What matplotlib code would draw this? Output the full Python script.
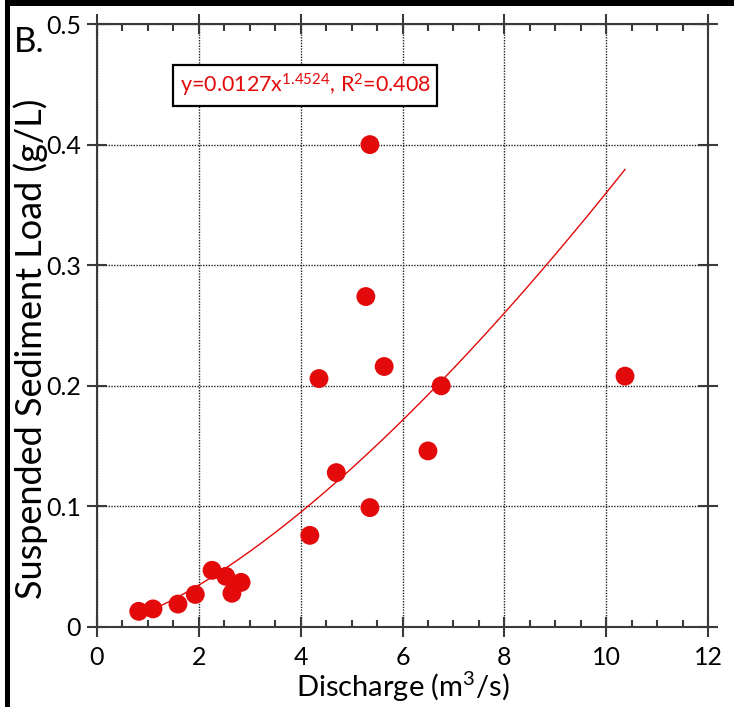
import numpy as np
import matplotlib
matplotlib.use("Agg")
import matplotlib.pyplot as plt
from matplotlib.patches import Rectangle
from matplotlib.ticker import MultipleLocator

plt.rcParams["font.family"] = ["Lato", "DejaVu Sans"]
plt.rcParams["mathtext.default"] = "regular"

# discharge (m3/s) and suspended sediment load (g/L)
discharge = [0.82, 1.10, 1.59, 1.93, 2.26, 2.53, 2.65, 2.83, 4.18, 4.36,
             4.70, 5.28, 5.36, 5.36, 5.64, 6.50, 6.76, 10.37]
ssl = [0.013, 0.015, 0.019, 0.027, 0.047, 0.042, 0.028, 0.037, 0.076, 0.206,
       0.128, 0.274, 0.400, 0.099, 0.216, 0.146, 0.200, 0.208]

# power-law fit reported on the chart
fit_a, fit_b, fit_r2 = 0.0127, 1.4524, 0.408

RED = "#e20a0a"
AX_COL = "#3a3a3a"

fig = plt.figure(figsize=(7.34, 7.07), dpi=100)
ax = fig.add_axes([97/734, 1 - 627/707, 611/734, 603/707])

# fitted curve
xf = np.linspace(min(discharge), max(discharge), 200)
ax.plot(xf, fit_a * xf ** fit_b, color=RED, lw=1.0, zorder=3)

ax.scatter(discharge, ssl, s=185, color=RED, edgecolors="none", zorder=4)

ax.set_xlim(0, 12)
ax.set_ylim(0, 0.5)
ax.xaxis.set_major_locator(MultipleLocator(2))
ax.xaxis.set_minor_locator(MultipleLocator(0.5))
ax.set_yticks([0, 0.1, 0.2, 0.3, 0.4, 0.5])
ax.set_yticklabels(["0", "0.1", "0.2", "0.3", "0.4", "0.5"])

ax.grid(True, which="major", ls=(0, (1, 1)), color="#222222", lw=1.0)
ax.set_axisbelow(True)

for sp in ax.spines.values():
    sp.set_color(AX_COL)
    sp.set_linewidth(1.5)

ax.tick_params(which="major", direction="inout", length=15, width=1.5,
               color=AX_COL, top=True, right=True, labelsize=18, pad=4)
ax.tick_params(axis="x", which="major", pad=6)
ax.tick_params(which="minor", direction="in", length=5, width=1.5,
               color=AX_COL, top=True, bottom=True)
ax.tick_params(axis="y", which="minor", left=False, right=False)

ax.set_xlabel("Discharge (m$^3$/s)", fontsize=21, labelpad=1)
ax.set_ylabel("Suspended Sediment Load (g/L)", fontsize=26)
ax.yaxis.set_label_coords(-0.080, 0.462)

ax.text(4.09, 0.449,
        f"y={fit_a}x$^{{{fit_b}}}$, R$^2$={fit_r2}",
        color=RED, fontsize=15.5, ha="center", va="center", zorder=5,
        bbox=dict(boxstyle="square,pad=0.3", fc="white", ec="black", lw=1.6))

# panel letter and black frame edges
fig.text(14/734, 1 - 52/707, "B.", fontsize=25, ha="left", va="baseline")
fig.add_artist(Rectangle((5/734, 0), 5/734, 1, transform=fig.transFigure,
                         color="black", lw=0))
fig.add_artist(Rectangle((5/734, 1 - 6/707), 1, 6/707, transform=fig.transFigure,
                         color="black", lw=0))

fig.savefig("out.png", dpi=100)
